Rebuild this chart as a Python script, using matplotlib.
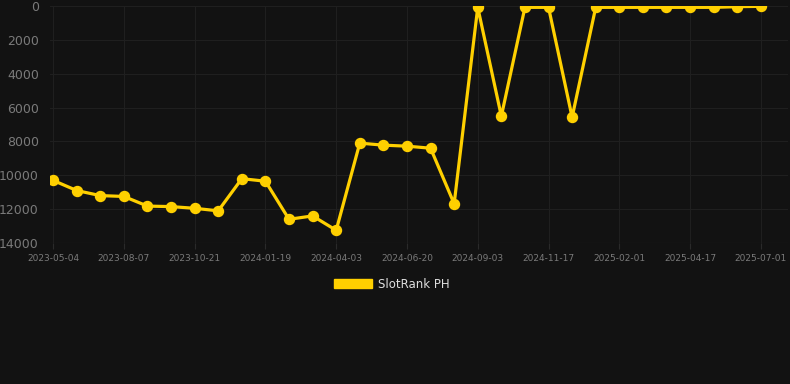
import matplotlib
matplotlib.use("Agg")
import matplotlib.pyplot as plt

# dates of the snapshots (only every third one is labelled on the axis)
dates = [
    "2023-05-04", "2023-05-29", "2023-06-23", "2023-08-07", "2023-08-31", "2023-09-25",
    "2023-10-21", "2023-11-20", "2023-12-20", "2024-01-19", "2024-02-12", "2024-03-08",
    "2024-04-03", "2024-04-29", "2024-05-25", "2024-06-20", "2024-07-15", "2024-08-09",
    "2024-09-03", "2024-09-28", "2024-10-23", "2024-11-17", "2024-12-12", "2025-01-06",
    "2025-02-01", "2025-02-25", "2025-03-22", "2025-04-17", "2025-05-12", "2025-06-06",
    "2025-07-01",
]
rank = [
    10300, 10900, 11200, 11250, 11820, 11850, 11950, 12100, 10200, 10350,
    12600, 12400, 13250, 8100, 8220, 8280, 8400, 11680, 80, 6510,
    80, 80, 6570, 80, 80, 80, 80, 80, 80, 40, 20,
]
series_name = "SlotRank PH"

bg = "#121212"
gold = "#FFD000"

fig = plt.figure(figsize=(7.9, 3.84), dpi=100, facecolor=bg)
ax = fig.add_axes([50 / 790, 1 - 243 / 384, 738 / 790, 237 / 384], facecolor=bg)

x = list(range(len(rank)))
ax.plot(x, rank, color=gold, lw=2.3, marker="o", ms=7.2, zorder=3)

ax.set_ylim(14000, 0)
ax.set_xlim(-0.13, len(rank) - 1 + 1.15)
ax.set_yticks(range(0, 14001, 2000))
ax.set_xticks(x[::3])
ax.set_xticklabels(dates[::3])

ax.grid(True, color="#1f1f1f", lw=0.8)
for s in ax.spines.values():
    s.set_visible(False)
ax.tick_params(axis="y", length=0, pad=8, labelsize=9, labelcolor="#7a7a7a")
ax.tick_params(axis="x", length=4, color="#2a2a2a", pad=4, labelsize=6.5, labelcolor="#7a7a7a")
ax.axhline(14000, color="#2a2a2a", lw=0.8)

leg = fig.legend(
    [plt.Rectangle((0, 0), 1, 1, color=gold)], [series_name],
    loc="center", bbox_to_anchor=(392 / 790, 1 - 284 / 384), frameon=False,
    handlelength=3.2, handleheight=0.9, handletextpad=0.5,
    fontsize=8.5, labelcolor="#dddddd",
)

fig.savefig("out.png", dpi=100, facecolor=bg)
